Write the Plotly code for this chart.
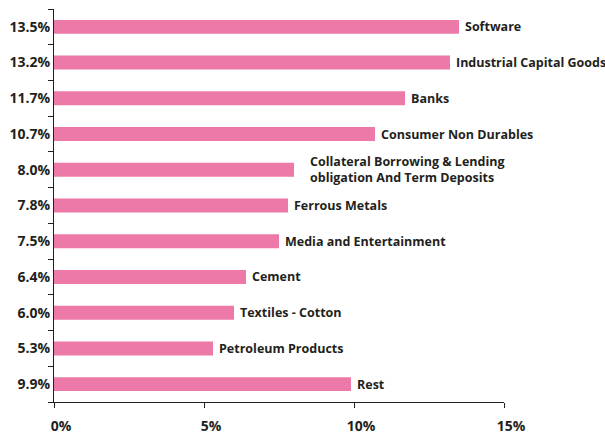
import plotly.graph_objects as go

categories = [
    "Software",
    "Industrial Capital Goods",
    "Banks",
    "Consumer Non Durables",
    "Collateral Borrowing & Lending<br>obligation And Term Deposits",
    "Ferrous Metals",
    "Media and Entertainment",
    "Cement",
    "Textiles - Cotton",
    "Petroleum Products",
    "Rest",
]
values = [13.5, 13.2, 11.7, 10.7, 8.0, 7.8, 7.5, 6.4, 6.0, 5.3, 9.9]
pct_labels = ["13.5%", "13.2%", "11.7%", "10.7%", "8.0%", "7.8%", "7.5%",
              "6.4%", "6.0%", "5.3%", "9.9%"]
x_ticks = [0, 5, 10, 15]
x_tick_labels = ["0%", "5%", "10%", "15%"]

BAR = "#EC79A7"
TXT = "#231F20"
FONT = "Open Sans"

fig = go.Figure()
fig.add_trace(go.Bar(
    x=values,
    y=categories,
    orientation="h",
    marker=dict(color=BAR, line=dict(width=0)),
    hoverinfo="skip",
))

for cat, v in zip(categories, values):
    multi = "<br>" in cat
    fig.add_annotation(
        x=v, y=cat, xref="x", yref="y",
        text=cat, showarrow=False,
        xanchor="left", yanchor="middle", align="left",
        xshift=14 if multi else 4,
        font=dict(family=FONT, size=12.5, color=TXT, weight="bold"),
    )

fig.update_layout(
    width=605, height=434,
    margin=dict(l=54, r=101, t=9, b=32, autoexpand=False),
    plot_bgcolor="white", paper_bgcolor="white",
    showlegend=False,
    bargap=0.61,
    font=dict(family=FONT, size=13, color=TXT, weight="bold"),
)
fig.update_xaxes(
    range=[0, 15],
    tickvals=x_ticks, ticktext=x_tick_labels,
    showgrid=False, zeroline=False,
    showline=True, linecolor=TXT, linewidth=1.3,
    ticks="outside", ticklen=5, tickwidth=1.3, tickcolor=TXT,
    ticklabelstandoff=6, ticklabelshift=7,
    tickfont=dict(family=FONT, size=14, color=TXT, weight="bold"),
    automargin=False,
    fixedrange=True,
)
fig.update_yaxes(
    type="category",
    categoryorder="array", categoryarray=categories,
    autorange="reversed",
    tickvals=categories, ticktext=pct_labels,
    tickson="boundaries",
    showgrid=False, zeroline=False,
    showline=True, linecolor=TXT, linewidth=1.3,
    ticks="outside", ticklen=5, tickwidth=1.3, tickcolor=TXT,
    tickfont=dict(family=FONT, size=14, color=TXT, weight="bold"),
    automargin=False,
    fixedrange=True,
)

fig.write_html(
    "out.html",
    config={"displayModeBar": False},
    post_script="document.body.style.margin='0';document.body.style.overflow='hidden';",
)
